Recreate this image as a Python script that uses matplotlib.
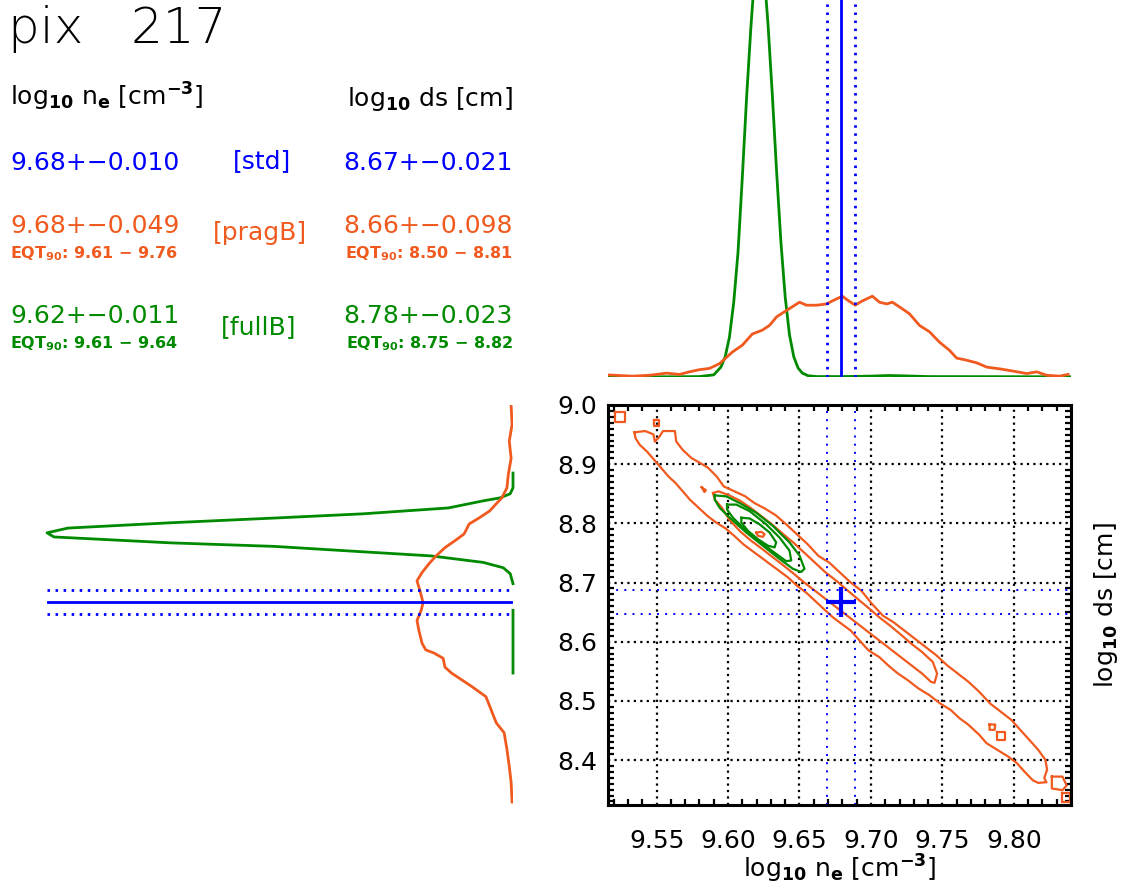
import numpy as np
import matplotlib
matplotlib.use("Agg")
import matplotlib.pyplot as plt
from matplotlib.ticker import MultipleLocator, FixedLocator

plt.rcParams['font.family'] = ['DejaVu Sans']
plt.rcParams['mathtext.fontset'] = 'dejavusans'

BLUE = '#0000FF'
ORANGE = '#F05A1E'
GREEN = '#008A00'

# ---------------- data ----------------
pixel_id = 217
ne_std, ne_std_err = 9.679, 0.010
ds_std, ds_std_err = 8.667, 0.021

row_labels = ['[std]', '[pragB]', '[fullB]']
ne_texts = ['9.68+\u22120.010', '9.68+\u22120.049', '9.62+\u22120.011']
ds_texts = ['8.67+\u22120.021', '8.66+\u22120.098', '8.78+\u22120.023']
ne_eqt = [None, '9.61 \u2212 9.76', '9.61 \u2212 9.64']
ds_eqt = [None, '8.50 \u2212 8.81', '8.75 \u2212 8.82']

# top histogram (n_e), relative counts
ne_hist_prag_x = [9.515, 9.533, 9.545, 9.557, 9.566, 9.573, 9.580, 9.587, 9.594, 9.603,
                  9.610, 9.617, 9.624, 9.629, 9.634, 9.641, 9.650, 9.655, 9.662, 9.669,
                  9.673, 9.680, 9.684, 9.689, 9.694, 9.701, 9.706, 9.711, 9.715, 9.720,
                  9.727, 9.734, 9.741, 9.748, 9.755, 9.760, 9.767, 9.774, 9.781, 9.790,
                  9.799, 9.809, 9.816, 9.823, 9.832, 9.838]
ne_hist_prag_y = [.005, .002, .004, .009, .006, .012, .017, .020, .031, .058,
                  .074, .100, .109, .120, .140, .155, .174, .167, .167, .170,
                  .177, .188, .178, .167, .177, .188, .174, .170, .174, .163,
                  .147, .120, .105, .081, .062, .044, .039, .033, .023, .019,
                  .014, .008, .012, .004, .002, .006]
ne_hist_full_x = [9.516, 9.560, 9.580, 9.590, 9.595, 9.598, 9.601, 9.604, 9.607, 9.610,
                  9.613, 9.616, 9.619, 9.622, 9.625, 9.628, 9.631, 9.634, 9.637, 9.640,
                  9.643, 9.646, 9.649, 9.652, 9.656, 9.662, 9.680, 9.700, 9.712, 9.725,
                  9.740, 9.840]
ne_hist_full_y = [.0005, .0005, .001, .005, .023, .047, .093, .174, .291, .465,
                  .651, .814, .953, 1.0, .953, .819, .656, .477, .314, .186,
                  .098, .047, .021, .009, .003, .001, .001, .002, .0035, .0025,
                  .001, .0005]

# left histogram (ds), relative counts
ds_hist_prag_y = [8.999, 8.967, 8.939, 8.910, 8.883, 8.860, 8.843, 8.833, 8.821, 8.809,
                  8.799, 8.782, 8.771, 8.759, 8.745, 8.732, 8.717, 8.703, 8.687, 8.666,
                  8.653, 8.636, 8.619, 8.597, 8.586, 8.581, 8.572, 8.557, 8.547, 8.535,
                  8.524, 8.507, 8.485, 8.463, 8.446, 8.418, 8.389, 8.362, 8.329]
ds_hist_prag_x = [.004, .002, .008, .004, .010, .013, .024, .036, .050, .073,
                  .094, .105, .124, .146, .165, .180, .195, .206, .200, .193,
                  .197, .206, .202, .195, .187, .170, .150, .146, .132, .109,
                  .088, .058, .047, .036, .019, .013, .008, .004, .002]
ds_hist_full_y = [8.885, 8.860, 8.850, 8.843, 8.838, 8.826, 8.816, 8.809, 8.801, 8.792,
                  8.784, 8.777, 8.767, 8.761, 8.752, 8.745, 8.734, 8.725, 8.715, 8.698,
                  np.nan, 8.653, 8.547]
ds_hist_full_x = [0, 0, .006, .028, .064, .139, .324, .511, .734, .955,
                  1.0, .985, .734, .511, .324, .176, .064, .021, .006, 0,
                  np.nan, 0, 0]

# contours (n_e, ds) of the pragB posterior
prag_outer_ne = [9.5345, 9.5420, 9.5478, 9.5488, 9.5520, 9.5545, 9.5628, 9.5638, 9.5683, 9.5745,
                 9.5795, 9.5858, 9.5920, 9.5970, 9.6045, 9.6120, 9.6183, 9.6258, 9.6333, 9.6408,
                 9.6483, 9.6558, 9.6633, 9.6708, 9.6783, 9.6858, 9.6933, 9.7008, 9.7083, 9.7158,
                 9.7233, 9.7308, 9.7383, 9.7458, 9.7533, 9.7608, 9.7683, 9.7758, 9.7833, 9.7908,
                 9.7983, 9.8045, 9.8108, 9.8170, 9.8220, 9.8233, 9.8213, 9.8228, 9.8170, 9.8133,
                 9.8083, 9.8020, 9.7958, 9.7883, 9.7808, 9.7758, 9.7683, 9.7620, 9.7558, 9.7483,
                 9.7408, 9.7333, 9.7258, 9.7183, 9.7120, 9.7058, 9.6983, 9.6920, 9.6858, 9.6795,
                 9.6733, 9.6670, 9.6608, 9.6545, 9.6483, 9.6420, 9.6358, 9.6295, 9.6233, 9.6170,
                 9.6108, 9.6045, 9.5983, 9.5920, 9.5858, 9.5795, 9.5733, 9.5683, 9.5633, 9.5583,
                 9.5533, 9.5483, 9.5433, 9.5383, 9.5353]
prag_outer_ds = [8.9538, 8.9560, 8.9504, 8.9381, 8.9465, 8.9560, 8.9560, 8.9381, 8.9241, 8.9101,
                 8.9034, 8.8944, 8.8793, 8.8625, 8.8541, 8.8457, 8.8345, 8.8250, 8.8138, 8.7981,
                 8.7813, 8.7645, 8.7449, 8.7337, 8.7169, 8.7001, 8.6861, 8.6637, 8.6441, 8.6329,
                 8.6189, 8.6049, 8.5909, 8.5769, 8.5601, 8.5461, 8.5321, 8.5153, 8.4957, 8.4817,
                 8.4677, 8.4509, 8.4341, 8.4174, 8.4006, 8.3838, 8.3698, 8.3625, 8.3614, 8.3658,
                 8.3782, 8.3950, 8.4062, 8.4174, 8.4286, 8.4426, 8.4594, 8.4706, 8.4846, 8.4958,
                 8.5098, 8.5209, 8.5349, 8.5473, 8.5601, 8.5741, 8.5853, 8.6021, 8.6189, 8.6301,
                 8.6413, 8.6553, 8.6693, 8.6833, 8.6945, 8.7085, 8.7197, 8.7309, 8.7421, 8.7533,
                 8.7645, 8.7785, 8.7914, 8.8009, 8.8121, 8.8261, 8.8401, 8.8541, 8.8681, 8.8793,
                 8.8933, 8.9073, 8.9213, 8.9325, 8.9437]
prag_mid_ne = [9.5895, 9.5933, 9.6008, 9.6083, 9.6158, 9.6233, 9.6308, 9.6383, 9.6458, 9.6533,
               9.6608, 9.6683, 9.6758, 9.6833, 9.6908, 9.6983, 9.7058, 9.7133, 9.7208, 9.7283,
               9.7358, 9.7433, 9.7463, 9.7445, 9.7420, 9.7358, 9.7283, 9.7208, 9.7133, 9.7058,
               9.6983, 9.6908, 9.6833, 9.6758, 9.6683, 9.6608, 9.6533, 9.6458, 9.6383, 9.6308,
               9.6233, 9.6158, 9.6083, 9.6008, 9.5958, 9.5908]
prag_mid_ds = [8.8513, 8.8541, 8.8474, 8.8384, 8.8261, 8.8121, 8.7981, 8.7824, 8.7673, 8.7505,
               8.7337, 8.7169, 8.7029, 8.6872, 8.6721, 8.6570, 8.6413, 8.6273, 8.6122, 8.5965,
               8.5825, 8.5657, 8.5461, 8.5305, 8.5322, 8.5461, 8.5601, 8.5741, 8.5881, 8.6021,
               8.6161, 8.6301, 8.6441, 8.6581, 8.6721, 8.6861, 8.7001, 8.7152, 8.7298, 8.7438,
               8.7578, 8.7712, 8.7869, 8.8065, 8.8261, 8.8401]
prag_inner_ne = [9.6198, 9.6233, 9.6256, 9.6244, 9.6209]
prag_inner_ds = [8.7844, 8.7856, 8.7817, 8.7772, 8.7789]
prag_islands_ne = [[9.5206, 9.5276, 9.5276, 9.5206],
                   [9.5480, 9.5515, 9.5515, 9.5480],
                   [9.5815, 9.5845, 9.5835],
                   [9.7830, 9.7870, 9.7865, 9.7830],
                   [9.7880, 9.7940, 9.7940, 9.7880],
                   [9.8266, 9.8340, 9.8370, 9.8340, 9.8266],
                   [9.8336, 9.8390, 9.8390, 9.8336]]
prag_islands_ds = [[8.9890, 8.9890, 8.9720, 8.9720],
                   [8.9740, 8.9740, 8.9640, 8.9640],
                   [8.8610, 8.8560, 8.8530],
                   [8.4600, 8.4600, 8.4510, 8.4510],
                   [8.4480, 8.4480, 8.4340, 8.4340],
                   [8.3720, 8.3720, 8.3570, 8.3490, 8.3520],
                   [8.3450, 8.3450, 8.3290, 8.3290]]

# contours of the fullB posterior
full_c1_ne = [9.5907, 9.5988, 9.6081, 9.6198, 9.6314, 9.6430, 9.6500, 9.6535, 9.6512, 9.6453,
              9.6360, 9.6244, 9.6128, 9.6012, 9.5942, 9.5907]
full_c1_ds = [8.8472, 8.8456, 8.8344, 8.8178, 8.7956, 8.7678, 8.7456, 8.7233, 8.7178, 8.7233,
              8.7400, 8.7622, 8.7844, 8.8094, 8.8261, 8.8400]
full_c2_ne = [9.5993, 9.6058, 9.6151, 9.6267, 9.6360, 9.6430, 9.6442, 9.6407, 9.6337, 9.6244,
              9.6128, 9.6035, 9.5993]
full_c2_ds = [8.8317, 8.8317, 8.8206, 8.7983, 8.7761, 8.7539, 8.7372, 8.7361, 8.7483, 8.7650,
              8.7872, 8.8094, 8.8233]
full_c3_ne = [9.6093, 9.6151, 9.6221, 9.6291, 9.6337, 9.6326, 9.6279, 9.6209, 9.6140, 9.6093]
full_c3_ds = [8.8094, 8.8083, 8.7983, 8.7844, 8.7678, 8.7594, 8.7622, 8.7733, 8.7872, 8.8011]

ne_ticks = [9.55, 9.60, 9.65, 9.70, 9.75, 9.80]
ds_ticks = [8.4, 8.5, 8.6, 8.7, 8.8, 8.9, 9.0]
ne_range = (9.516, 9.840)
ds_range = (8.324, 9.000)

# ---------------- figure ----------------
W, H = 1133, 888
fig = plt.figure(figsize=(W / 100, H / 100), dpi=100)


def fx(x):
    return x / W


def fy(y):
    return 1 - y / H


def closed(a):
    return list(a) + [a[0]]


# main panel
ax = fig.add_axes([fx(608), fy(805), fx(463), 400 / H])
ax.set_xlim(*ne_range)
ax.set_ylim(*ds_range)
ax.xaxis.set_major_locator(FixedLocator(ne_ticks))
ax.yaxis.set_major_locator(FixedLocator(ds_ticks))
ax.set_xticklabels(['%.2f' % t for t in ne_ticks])
ax.set_yticklabels(['%.1f' % t for t in ds_ticks])
ax.xaxis.set_minor_locator(MultipleLocator(0.01))
ax.yaxis.set_minor_locator(MultipleLocator(0.01))
ax.tick_params(which='both', direction='in', top=True, right=True, labelsize=18,
               labelcolor='black')
ax.tick_params(which='major', length=0, width=0)
ax.tick_params(axis='x', which='major', pad=17)
ax.tick_params(axis='y', which='major', pad=8)
ax.tick_params(which='minor', length=4.5, width=1.6, color='black')
for s in ax.spines.values():
    s.set_linewidth(2.2)
ax.grid(True, which='major', color='black', linewidth=1.6, linestyle=(0, (1, 1.9)))
ax.set_axisbelow(True)

lw_c = 1.6
ax.plot(closed(prag_outer_ne), closed(prag_outer_ds), color=ORANGE, lw=lw_c)
ax.plot(closed(prag_mid_ne), closed(prag_mid_ds), color=ORANGE, lw=lw_c)
ax.plot(closed(prag_inner_ne), closed(prag_inner_ds), color=ORANGE, lw=lw_c)
for xs, ys in zip(prag_islands_ne, prag_islands_ds):
    ax.plot(closed(xs), closed(ys), color=ORANGE, lw=lw_c)
ax.plot(closed(full_c1_ne), closed(full_c1_ds), color=GREEN, lw=lw_c)
ax.plot(closed(full_c2_ne), closed(full_c2_ds), color=GREEN, lw=lw_c)
ax.plot(closed(full_c3_ne), closed(full_c3_ds), color=GREEN, lw=lw_c)

bdot = (0, (1, 3.2))
for v in (ne_std - ne_std_err, ne_std + ne_std_err):
    ax.axvline(v, color=BLUE, lw=1.4, linestyle=bdot)
for v in (ds_std - ds_std_err, ds_std + ds_std_err):
    ax.axhline(v, color=BLUE, lw=1.4, linestyle=bdot)
ax.plot([ne_std], [ds_std], marker='+', color=BLUE, markersize=21, mew=3.0, zorder=5)

fig.text(fx(840), fy(878), r'log$_{\mathbf{10}}$ n$_{\mathbf{e}}$ [cm$^{\mathbf{-3}}$]',
         ha='center', va='baseline', fontsize=18)
fig.text(fx(1106), fy(605), r'log$_{\mathbf{10}}$ ds [cm]', rotation=90,
         ha='center', va='center', fontsize=18)

# top panel: n_e histograms
axt = fig.add_axes([fx(608), fy(377), fx(463), 377 / H])
axt.set_xlim(*ne_range)
axt.set_ylim(0, 0.877)
axt.axis('off')
axt.plot(ne_hist_full_x, ne_hist_full_y, color=GREEN, lw=2.0, clip_on=True)
axt.plot(ne_hist_prag_x, ne_hist_prag_y, color=ORANGE, lw=2.0)
axt.axvline(ne_std, color=BLUE, lw=2.0)
for v in (ne_std - ne_std_err, ne_std + ne_std_err):
    axt.axvline(v, color=BLUE, lw=2.0, linestyle=(0, (0.9, 2.0)))

# left panel: ds histograms
axl = fig.add_axes([fx(47), fy(805), fx(466), 400 / H])
axl.set_ylim(*ds_range)
axl.set_xlim(1.0, 0.0)
axl.axis('off')
axl.plot(ds_hist_full_x, ds_hist_full_y, color=GREEN, lw=2.0, clip_on=False)
axl.plot(ds_hist_prag_x, ds_hist_prag_y, color=ORANGE, lw=2.0)
axl.axhline(ds_std, color=BLUE, lw=2.0)
for v in (ds_std - ds_std_err, ds_std + ds_std_err):
    axl.axhline(v, color=BLUE, lw=2.0, linestyle=(0, (0.9, 2.0)))

# text block
fig.text(fx(8), fy(43), 'pix   %d' % pixel_id, fontsize=36, fontweight='light',
         ha='left', va='baseline', color='black')
fig.text(fx(10), fy(106), r'log$_{\mathbf{10}}$ n$_{\mathbf{e}}$ [cm$^{\mathbf{-3}}$]',
         fontsize=18, ha='left', va='baseline')
fig.text(fx(513), fy(106), r'log$_{\mathbf{10}}$ ds [cm]', fontsize=18,
         ha='right', va='baseline')

colors = [BLUE, ORANGE, GREEN]
base_y = [170, 233, 323]
lab_y = [161, 233, 327]
lab_x = [262, 260, 259]
for i in range(3):
    c = colors[i]
    fig.text(fx(10), fy(base_y[i]), ne_texts[i], color=c, fontsize=18,
             ha='left', va='baseline')
    fig.text(fx(513), fy(base_y[i]), ds_texts[i], color=c, fontsize=18,
             ha='right', va='baseline')
    fig.text(fx(lab_x[i]), fy(lab_y[i]), row_labels[i], color=c, fontsize=18,
             ha='center', va='center')
    if ne_eqt[i] is not None:
        fig.text(fx(10), fy(base_y[i] + 25), r'EQT$_{\mathbf{90}}$: ' + ne_eqt[i],
                 color=c, fontsize=11.5, fontweight='bold', ha='left', va='baseline')
        fig.text(fx(513), fy(base_y[i] + 25), r'EQT$_{\mathbf{90}}$: ' + ds_eqt[i],
                 color=c, fontsize=11.5, fontweight='bold', ha='right', va='baseline')

fig.savefig('out.png', dpi=100)
